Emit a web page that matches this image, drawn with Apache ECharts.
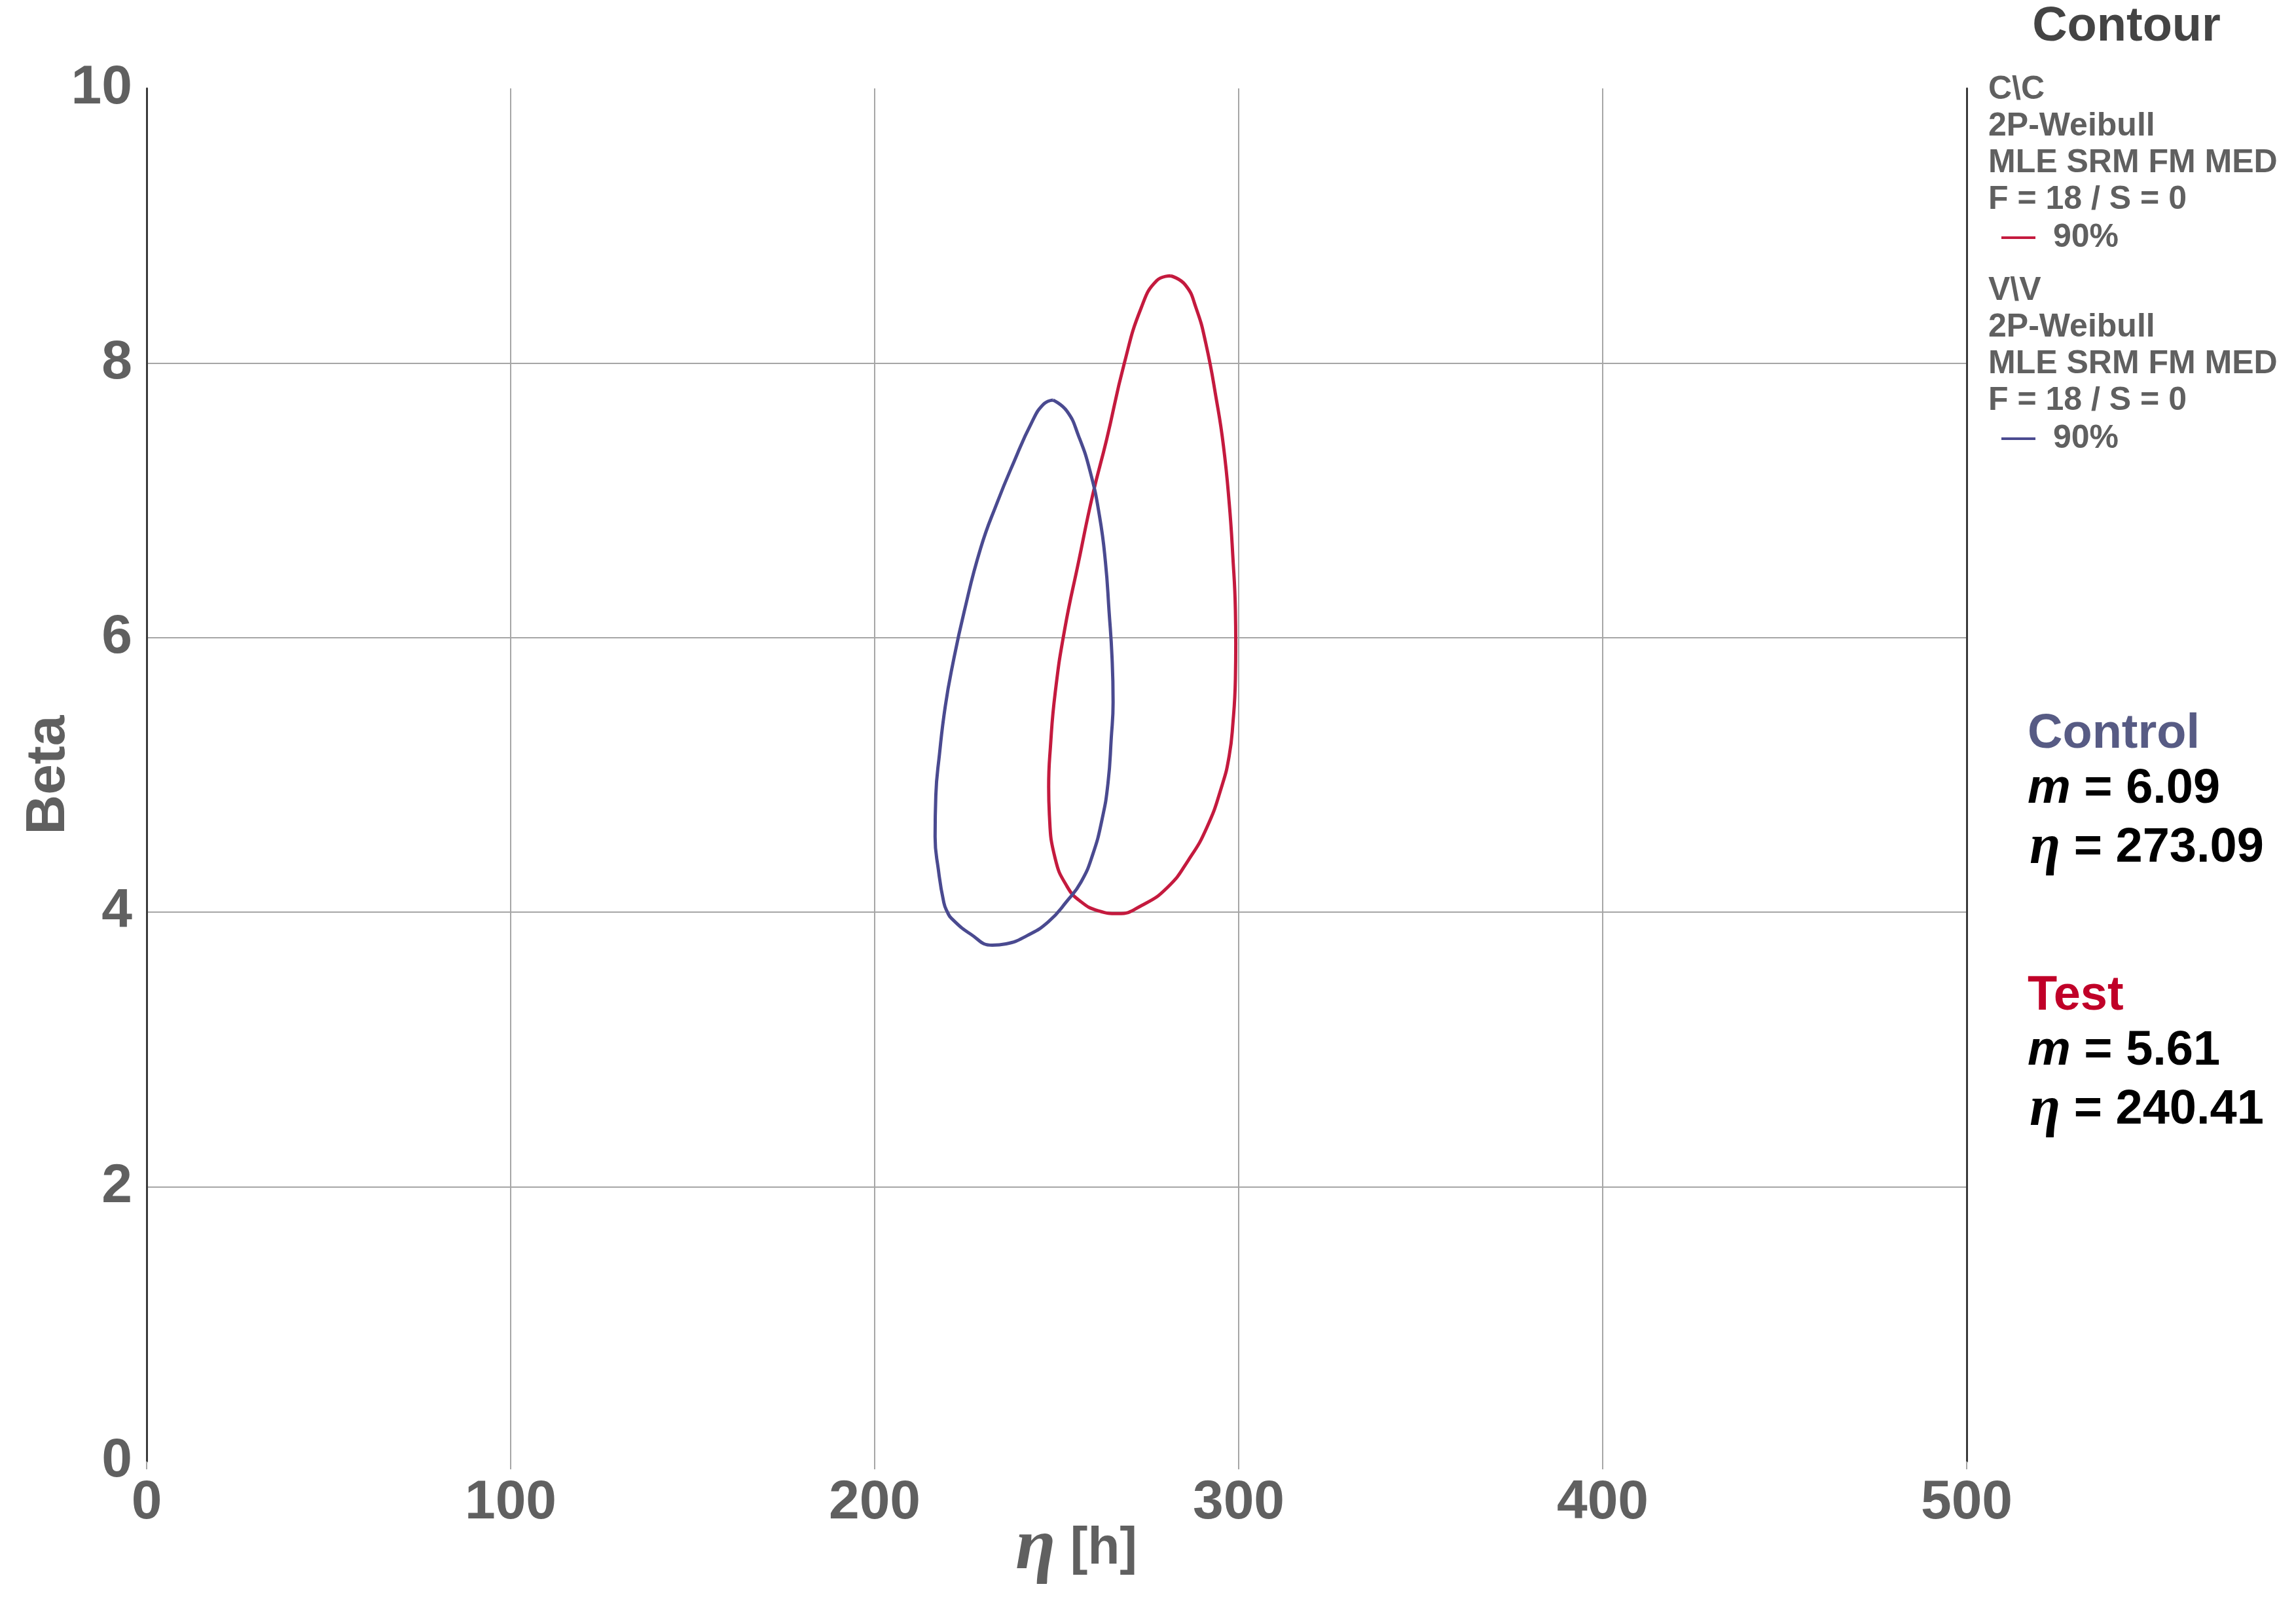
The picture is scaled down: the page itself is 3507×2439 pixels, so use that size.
<!DOCTYPE html>
<html>
<head>
<meta charset="utf-8">
<script src="https://cdn.jsdelivr.net/npm/echarts@6/dist/echarts.min.js"></script>
<style>
  html, body { margin: 0; padding: 0; background: #fff; }
  #chart { width: 3507px; height: 2439px; }
</style>
</head>
<body>
<div id="chart"></div>
<script>
// C\C contour (red), 90% confidence
const ccEta  = [281.3, 285.3, 288.3, 291.0, 293.9, 295.8, 297.4, 298.4, 299.1, 299.2, 299.1, 298.4, 297.4, 295.5, 291.3, 286.2, 280.4, 273.4, 266.9, 261.5, 256.5, 252.8, 249.6, 248.0, 247.8, 248.3, 249.6, 252.2, 256.0, 259.9, 263.7, 268.6, 273.2, 277.5];
const ccBeta = [8.635, 8.57, 8.40, 8.14, 7.73, 7.40, 6.98, 6.59, 6.20, 5.96, 5.70, 5.37, 5.14, 4.93, 4.62, 4.38, 4.18, 4.05, 3.99, 4.01, 4.08, 4.19, 4.39, 4.71, 4.91, 5.21, 5.60, 6.06, 6.55, 7.04, 7.44, 8.00, 8.40, 8.60];

// V\V contour (blue), 90% confidence
const vvEta  = [249.0, 252.8, 256.0, 259.2, 261.8, 263.4, 264.4, 265.2, 265.5, 265.0, 264.1, 262.5, 259.9, 256.7, 252.8, 247.7, 241.9, 236.1, 232.3, 226.4, 221.1, 220.0, 219.0, 217.5, 216.6, 216.8, 217.8, 219.4, 221.4, 224.6, 229.1, 233.6, 238.1, 243.2, 246.4];
const vvBeta = [7.73, 7.65, 7.47, 7.21, 6.88, 6.55, 6.19, 5.86, 5.53, 5.27, 4.94, 4.68, 4.42, 4.22, 4.08, 3.93, 3.83, 3.77, 3.76, 3.84, 3.955, 4.00, 4.07, 4.31, 4.55, 4.85, 5.15, 5.50, 5.80, 6.19, 6.65, 6.98, 7.27, 7.57, 7.70];

const legendLines = ['2P-Weibull', 'MLE SRM FM MED', 'F = 18 / S = 0'];
const controlStats = { m: '6.09', eta: '273.09' };
const testStats = { m: '5.61', eta: '240.41' };

const RED = '#c41a3e';
const BLUE = '#4a4a90';
const GREY_TXT = '#606060';

function loop(xs, ys) {
    const pts = xs.map((x, i) => [x, ys[i]]);
    pts.push(pts[0]);
    return pts;
}

const chart = echarts.init(document.getElementById('chart'));

const legendStyle = { fontFamily: 'Liberation Sans', fontWeight: 'bold', fontSize: 50, fill: GREY_TXT, verticalAlign: 'middle' };
const graphic = [];
function legendBlock(head, y0, color) {
    graphic.push({ type: 'text', x: 3037, y: y0, style: Object.assign({ text: head }, legendStyle) });
    legendLines.forEach((t, i) => {
        graphic.push({ type: 'text', x: 3037, y: y0 + 56 * (i + 1), style: Object.assign({ text: t }, legendStyle) });
    });
    const yl = y0 + 56 * 4 + 2;
    graphic.push({ type: 'line', shape: { x1: 3057, y1: yl, x2: 3109, y2: yl }, style: { stroke: color, lineWidth: 4 } });
    graphic.push({ type: 'text', x: 3136, y: yl, style: Object.assign({ text: '90%' }, legendStyle) });
}
legendBlock('C\\C', 137, RED);
legendBlock('V\\V', 444, BLUE);

graphic.push({ type: 'text', x: 3248, y: 42, style: { text: 'Contour', fontFamily: 'Liberation Sans', fontWeight: 'bold', fontSize: 74, fill: '#444', align: 'center', verticalAlign: 'middle' } });

const statRich = {
    m: { fontFamily: 'Liberation Sans', fontWeight: 'bold', fontStyle: 'italic', fontSize: 74, fill: '#000' },
    e: { fontFamily: 'Liberation Serif', fontStyle: 'italic', fontWeight: 'bold', fontSize: 86, fill: '#000' }
};
function statBlock(title, color, stats, y0) {
    graphic.push({ type: 'text', x: 3097, y: y0, style: { text: title, fontFamily: 'Liberation Sans', fontWeight: 'bold', fontSize: 74, fill: color, verticalAlign: 'middle' } });
    graphic.push({ type: 'text', x: 3097, y: y0 + 84, style: { text: '{m|m} = ' + stats.m, rich: statRich, fontFamily: 'Liberation Sans', fontWeight: 'bold', fontSize: 74, fill: '#000', verticalAlign: 'middle' } });
    graphic.push({ type: 'text', x: 3100, y: y0 + 174, style: { text: '{e|η} = ' + stats.eta, rich: statRich, fontFamily: 'Liberation Sans', fontWeight: 'bold', fontSize: 74, fill: '#000', verticalAlign: 'middle' } });
}
statBlock('Control', '#575b84', controlStats, 1122);
statBlock('Test', '#c00028', testStats, 1522);

const axisLabelStyle = { fontFamily: 'Liberation Sans', fontWeight: 'bold', fontSize: 84, color: GREY_TXT };

chart.setOption({
    animation: false,
    backgroundColor: '#fff',
    grid: { left: 224, right: 503, top: 135, bottom: 207, containLabel: false, outerBoundsMode: 'none' },
    xAxis: {
        type: 'value', min: 0, max: 500, interval: 100,
        name: '{e|η} [h]',
        nameLocation: 'middle', nameGap: 78, nameMoveOverlap: false,
        nameTextStyle: {
            fontFamily: 'Liberation Sans', fontWeight: 'bold', fontSize: 80, color: GREY_TXT,
            padding: [0, 0, 0, 60],
            rich: { e: { fontFamily: 'Liberation Serif', fontStyle: 'italic', fontWeight: 'bold', fontSize: 112, color: GREY_TXT } }
        },
        axisLine: { show: false },
        axisTick: { show: true, length: 12, lineStyle: { color: '#a6a6a6', width: 2 } },
        axisLabel: Object.assign({ margin: 22 }, axisLabelStyle),
        splitLine: { show: true, lineStyle: { color: '#a6a6a6', width: 2 } }
    },
    yAxis: [{
        type: 'value', min: 0, max: 10, interval: 2,
        name: 'Beta',
        nameLocation: 'middle', nameGap: 107, nameMoveOverlap: false,
        nameTextStyle: { fontFamily: 'Liberation Sans', fontWeight: 'bold', fontSize: 84, color: GREY_TXT },
        axisLine: { show: true, lineStyle: { color: '#3a3a3a', width: 3 } },
        axisTick: { show: false },
        axisLabel: Object.assign({ margin: 22 }, axisLabelStyle),
        splitLine: { show: true, showMinLine: false, showMaxLine: false, lineStyle: { color: '#a6a6a6', width: 2 } }
    }, {
        type: 'value', min: 0, max: 10, interval: 2, position: 'right',
        axisLine: { show: true, onZero: false, lineStyle: { color: '#3a3a3a', width: 3 } },
        axisTick: { show: false },
        axisLabel: { show: false },
        splitLine: { show: false }
    }],
    series: [{
        name: 'C\\C 90%', type: 'line', data: loop(ccEta, ccBeta),
        smooth: 0.5, showSymbol: false, lineStyle: { color: RED, width: 5 }, z: 3
    }, {
        name: 'V\\V 90%', type: 'line', data: loop(vvEta, vvBeta),
        smooth: 0.5, showSymbol: false, lineStyle: { color: BLUE, width: 5 }, z: 3
    }],
    graphic: graphic
});
</script>
</body>
</html>
